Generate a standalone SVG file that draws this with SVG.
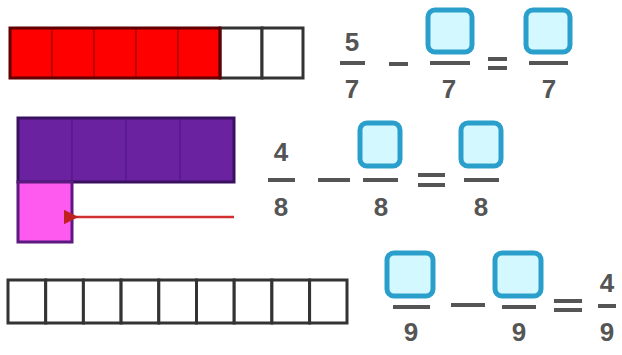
<svg xmlns="http://www.w3.org/2000/svg" width="622" height="355" viewBox="0 0 622 355">
<style>
.t{font-family:"Liberation Sans",Arial,sans-serif;font-size:26px;font-weight:bold;fill:#555;text-anchor:middle}
.fl{stroke:#555;stroke-width:4}
.box{fill:#d4f8ff;stroke:#2a9fcc;stroke-width:5}
.w{fill:#fff;stroke:#333;stroke-width:3}
.r{fill:#f00;stroke:#b00000;stroke-width:1.5}
.p{fill:#6a22a0;stroke:#5a1890;stroke-width:1.5}
</style>
<defs>
<marker id="ah" markerWidth="6" markerHeight="6" refX="1" refY="3" orient="auto"><path d="M6,0 L0,3 L6,6 Z" fill="#c02020"/></marker>
</defs>
<rect width="622" height="355" fill="#fff"/>
<g id="bar1">
<rect class="r" x="10" y="28" width="42" height="50"/>
<rect class="r" x="52" y="28" width="42" height="50"/>
<rect class="r" x="94" y="28" width="42" height="50"/>
<rect class="r" x="136" y="28" width="42" height="50"/>
<rect class="r" x="178" y="28" width="42" height="50"/>
<rect class="w" x="220" y="28" width="42" height="50"/>
<rect class="w" x="262" y="28" width="41" height="50"/>
<rect x="10" y="28" width="210" height="50" fill="none" stroke="#600000" stroke-width="3"/>
</g>
<g id="eq1">
<text class="t" x="352" y="51">5</text>
<line class="fl" x1="340" y1="63" x2="365" y2="63"/>
<text class="t" x="352" y="98">7</text>
<line class="fl" x1="389" y1="64" x2="408" y2="64"/>
<rect class="box" x="428" y="10" width="44" height="42" rx="7"/>
<line class="fl" x1="430" y1="63" x2="470" y2="63"/>
<text class="t" x="449" y="98">7</text>
<line class="fl" x1="488" y1="59" x2="507" y2="59"/>
<line class="fl" x1="488" y1="68" x2="507" y2="68"/>
<rect class="box" x="526" y="10" width="44" height="42" rx="7"/>
<line class="fl" x1="529" y1="63" x2="568" y2="63"/>
<text class="t" x="549" y="98">7</text>
</g>
<g id="bar2">
<rect class="p" x="18" y="118" width="54" height="64"/>
<rect class="p" x="72" y="118" width="54" height="64"/>
<rect class="p" x="126" y="118" width="54" height="64"/>
<rect class="p" x="180" y="118" width="54" height="64"/>
<rect x="18" y="118" width="216" height="64" fill="none" stroke="#3a1060" stroke-width="3"/>
<rect x="18" y="182" width="54" height="60" fill="#ff5af0" stroke="#5a1a80" stroke-width="3"/>
</g>
<g id="connectors">
<line x1="234" y1="217" x2="76" y2="217" stroke="#d03030" stroke-width="2.5" marker-end="url(#ah)"/>
</g>
<g id="eq2">
<text class="t" x="281" y="161">4</text>
<line class="fl" x1="268" y1="180" x2="295" y2="180"/>
<text class="t" x="281" y="216">8</text>
<line class="fl" x1="318" y1="180" x2="350" y2="180"/>
<rect class="box" x="360" y="123" width="40" height="43" rx="7"/>
<line class="fl" x1="363" y1="180" x2="398" y2="180"/>
<text class="t" x="381" y="216">8</text>
<line class="fl" x1="418" y1="175" x2="445" y2="175"/>
<line class="fl" x1="418" y1="185" x2="445" y2="185"/>
<rect class="box" x="461" y="123" width="40" height="43" rx="7"/>
<line class="fl" x1="464" y1="180" x2="499" y2="180"/>
<text class="t" x="481" y="216">8</text>
</g>
<g id="bar3">
<rect class="w" x="8" y="280" width="37.7" height="43"/>
<rect class="w" x="45.7" y="280" width="37.7" height="43"/>
<rect class="w" x="83.4" y="280" width="37.7" height="43"/>
<rect class="w" x="121.1" y="280" width="37.7" height="43"/>
<rect class="w" x="158.8" y="280" width="37.7" height="43"/>
<rect class="w" x="196.5" y="280" width="37.7" height="43"/>
<rect class="w" x="234.2" y="280" width="37.7" height="43"/>
<rect class="w" x="271.9" y="280" width="37.7" height="43"/>
<rect class="w" x="309.6" y="280" width="37.4" height="43"/>
</g>
<g id="eq3">
<rect class="box" x="387" y="253" width="46" height="43" rx="7"/>
<line class="fl" x1="393" y1="307" x2="430" y2="307"/>
<text class="t" x="411" y="341">9</text>
<line class="fl" x1="451" y1="305" x2="485" y2="305"/>
<rect class="box" x="495" y="253" width="46" height="43" rx="7"/>
<line class="fl" x1="502" y1="307" x2="536" y2="307"/>
<text class="t" x="519" y="341">9</text>
<line class="fl" x1="554" y1="301" x2="582" y2="301"/>
<line class="fl" x1="554" y1="310" x2="582" y2="310"/>
<text class="t" x="607" y="292">4</text>
<line class="fl" x1="598" y1="306" x2="616" y2="306"/>
<text class="t" x="607" y="341">9</text>
</g>
</svg>
